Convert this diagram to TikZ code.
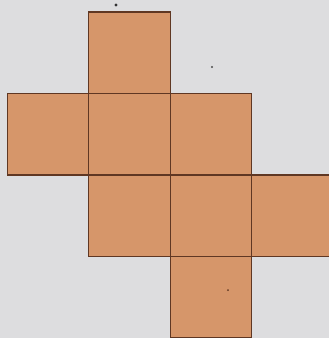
\documentclass[tikz,border=0pt]{standalone}
\usepackage{xcolor}
\usepackage{tikz}
\usetikzlibrary{positioning}
\definecolor{netfill}{RGB}{214,150,106}
\definecolor{netedge}{RGB}{95,55,35}
\definecolor{paper}{RGB}{221,221,223}

\begin{document}
\begin{tikzpicture}[x=0.025cm,y=-0.025cm]
    \useasboundingbox (0,0) rectangle (329,338);
    \clip (0,0) rectangle (329,338);
    \fill[paper] (0,0) rectangle (329,338);
    % cube net, one face per cell
    \foreach \c/\r in {1/0,0/1,1/1,2/1,1/2,2/2,3/2,2/3}
      \draw[fill=netfill, draw=netedge, line width=0.8pt] (7.5+81.3*\c, 12+81.5*\r) rectangle ++(81.3,81.5);
    \fill[black!80] (116,5) circle (1.6);
    \fill[black!70] (212,67) circle (1.1);
    \fill[netedge] (228,290) circle (1);
  \end{tikzpicture}
\end{document}
